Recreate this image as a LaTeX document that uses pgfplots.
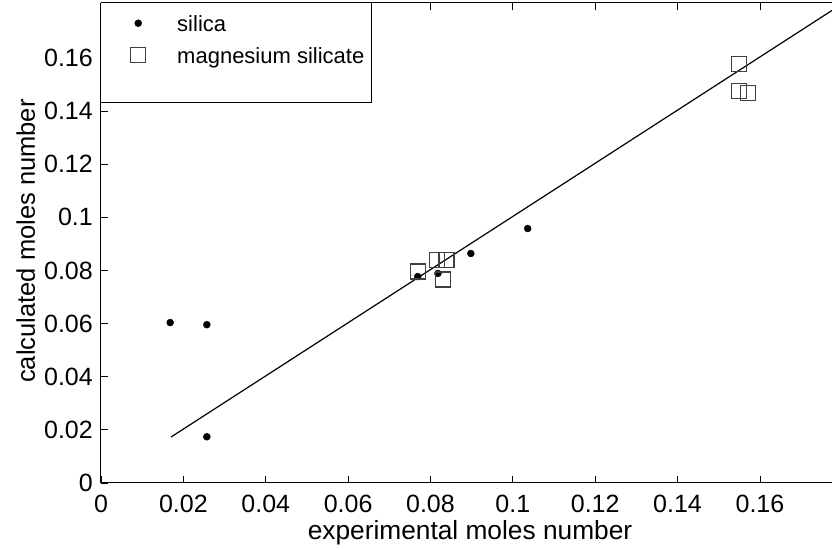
\documentclass[border=0pt]{standalone}
\usepackage{fontspec}
\setmainfont{Liberation Sans}
\usepackage{pgfplots}
\pgfplotsset{compat=1.18}
\begin{document}
\begin{tikzpicture}
\begin{axis}[
  width=731pt, height=480pt, scale only axis,
  xmin=0, xmax=0.1775, ymin=0, ymax=0.1807,
  axis x line=box, axis y line=left, axis line style={-, line width=1pt, black},
  tick align=inside, major tick length=7pt, tick style={line width=0.8pt, black},
  xtick={0,0.02,0.04,0.06,0.08,0.1,0.12,0.14,0.16},
  ytick={0,0.02,0.04,0.06,0.08,0.1,0.12,0.14,0.16},
  xticklabels={0,0.02,0.04,0.06,0.08,0.1,0.12,0.14,0.16},
  yticklabels={0,0.02,0.04,0.06,0.08,0.1,0.12,0.14,0.16},
  tick label style={font=\fontsize{25}{30}\selectfont, inner sep=0pt},
  xticklabel style={anchor=north, yshift=-12pt},
  yticklabel style={anchor=east, xshift=-8pt},
  xlabel={experimental moles number},
  ylabel={calculated moles number},
  xlabel style={font=\fontsize{26.3}{30}\selectfont, at={(axis description cs:0.5048,-0.11875)}, anchor=base, inner sep=0pt},
  ylabel style={font=\fontsize{25.5}{30}\selectfont, at={(axis description cs:-0.0903,0.504)}, anchor=base, rotate=0, inner sep=0pt},
  legend style={at={(axis description cs:0.0404,0.9854)}, anchor=north west, draw=none, fill=none,
    inner sep=0pt, column sep=31.5pt, row sep=6pt, font=\fontsize{22}{26}\selectfont,
    nodes={inner sep=0pt, text height=20.9pt, text depth=5.1pt}},
  legend cell align=left,
  legend image code/.code={\draw[#1] plot coordinates {(0pt,0pt)};},
  clip=true,
]
\draw[fill=white, line width=1pt] (axis description cs:0,1) rectangle (axis description cs:0.3707,0.7917);
\addplot[only marks, mark=*, mark size=3.5pt, black] coordinates {
  (0.0168,0.0604) (0.0257,0.0596) (0.0257,0.0174) (0.0769,0.0777)
  (0.0818,0.0789) (0.0898,0.0864) (0.1036,0.0958)
};
\addlegendentry{silica}
\addplot[only marks, mark=square, mark size=7.5pt, draw=black!75, mark options={line width=1.1pt}] coordinates {
  (0.0770,0.0796) (0.0816,0.0838) (0.0839,0.0838) (0.0830,0.0766)
  (0.1549,0.1577) (0.1549,0.1475) (0.1570,0.1468)
};
\addlegendentry{magnesium silicate}
\addlegendimage{empty legend}
\addlegendentry{\phantom{x}}
\addplot[black, line width=1.2pt, forget plot] coordinates {(0.017,0.0173) (0.1775,0.1779)};
\end{axis}
\pgfresetboundingbox
\path ([shift={(-101pt,-67pt)}]current axis.south west) rectangle ([shift={(0pt,3pt)}]current axis.north east);
\end{tikzpicture}
\end{document}
